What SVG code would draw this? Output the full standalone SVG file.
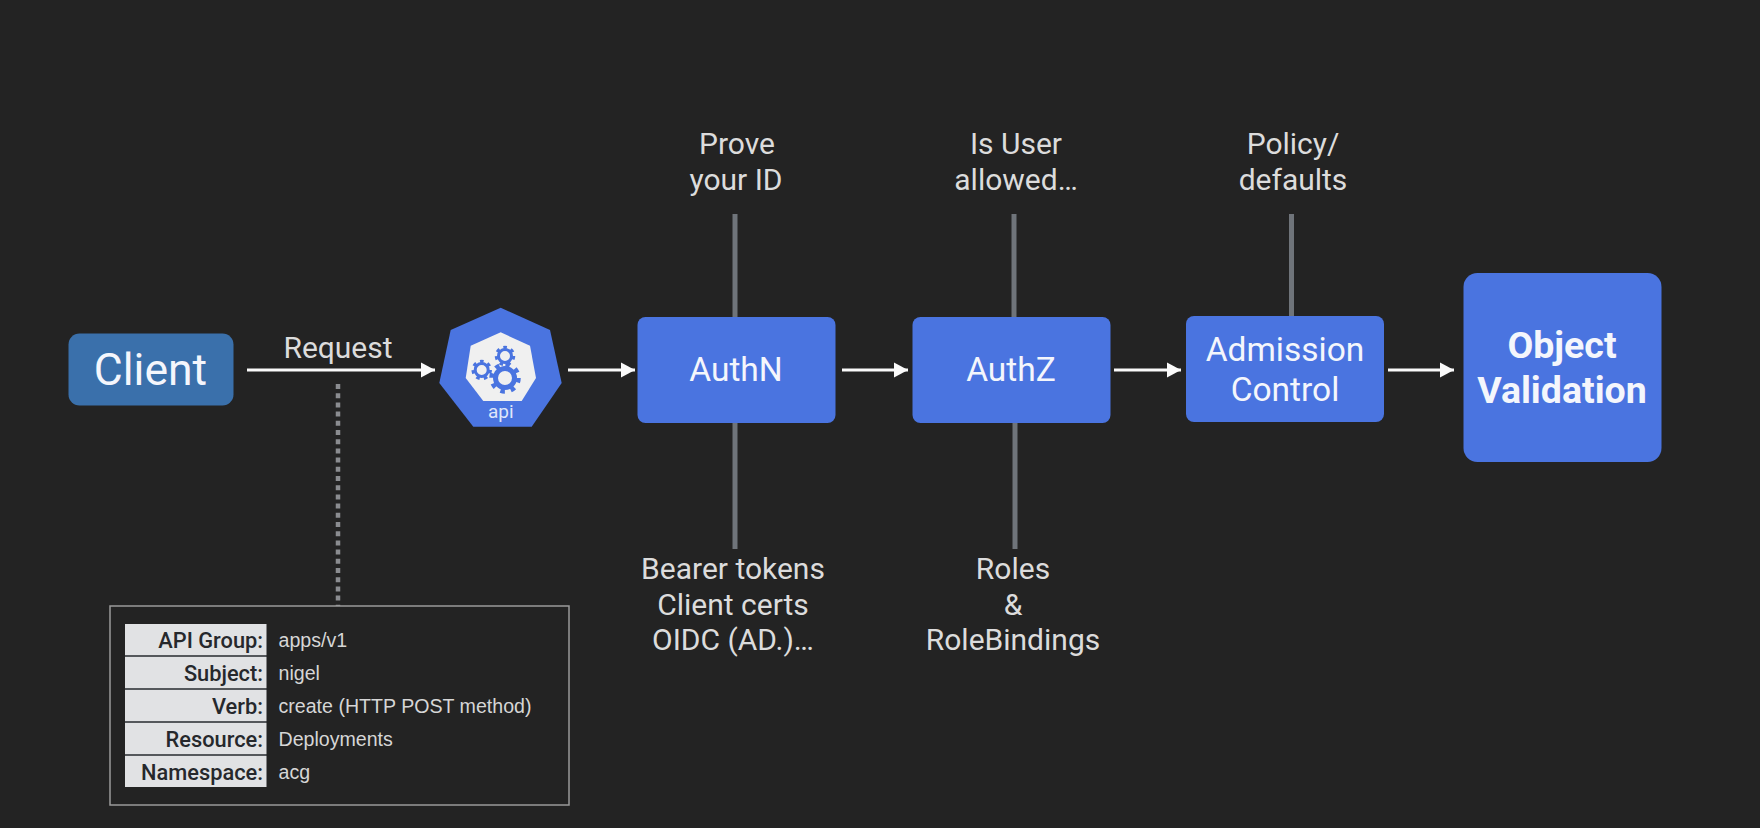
<svg xmlns="http://www.w3.org/2000/svg" width="1760" height="828" viewBox="0 0 1760 828">
<style>
text{font-family:Roboto,"Liberation Sans",sans-serif;text-anchor:middle}
.box{fill:#4a74e0}
.nodetext{fill:#f4f6fc;font-size:33.500px}
.strong{font-weight:700;font-size:37.500px}
.note{fill:#dcdcdc;font-size:30px}
.flow{stroke:#fafafa;stroke-width:3;fill:none;marker-end:url(#ah)}
.stem{stroke:#6f747a;stroke-width:5;fill:none}
.cell{fill:#e1e2e4}
.sep{fill:#55585c}
.k{fill:#26282c;font-size:21.800px;font-weight:500;text-anchor:end}
.v{fill:#d6d6d6;font-size:19.600px;font-family:"Liberation Sans",Arial,sans-serif;text-anchor:start}
.gear{fill:none;stroke:#4a74e0}
</style>
<defs>
<marker id="ah" markerUnits="userSpaceOnUse" markerWidth="16" markerHeight="16" refX="14" refY="8" orient="auto"><path d="M0,0.500 L14,8 L0,15.500 Z" fill="#fafafa"/></marker>
</defs>
<rect width="1760" height="828" fill="#232323"/>
<g id="connectors">
<line class="flow" x1="247" y1="370" x2="435" y2="370"/>
<line class="flow" x1="568" y1="370" x2="635" y2="370"/>
<line class="flow" x1="842" y1="370" x2="908" y2="370"/>
<line class="flow" x1="1114" y1="370" x2="1181" y2="370"/>
<line class="flow" x1="1388" y1="370" x2="1454" y2="370"/>
<line class="stem" x1="735" y1="214" x2="735" y2="317"/>
<line class="stem" x1="1014" y1="214" x2="1014" y2="317"/>
<line class="stem" x1="1291.500" y1="214" x2="1291.500" y2="316"/>
<line class="stem" x1="735" y1="423" x2="735" y2="549"/>
<line class="stem" x1="1015" y1="423" x2="1015" y2="549"/>
<line x1="338" y1="384" x2="338" y2="606" stroke="#8a8c90" stroke-width="4.500" stroke-dasharray="5 4.200"/>
</g>
<g id="client"><rect x="68.500" y="333.500" width="165" height="72" rx="11" fill="#3a70ab"/><text x="150.500" y="385" font-size="44.500" fill="#f4f6fc">Client</text></g>
<text x="338" y="357.500" class="note">Request</text>
<g id="api">
<polygon class="box" points="500.700,307.700 550,330 561.700,383 531.700,426.700 473.300,426.700 439.300,383 450.700,330"/>
<polygon fill="#f0f0f0" points="500.700,332.300 530,345.700 536,378 521.700,401 483.300,401 465.700,378 470.700,345.700"/>
<circle class="gear" cx="481.700" cy="370" r="6.500" stroke-width="3"/><circle class="gear" cx="481.700" cy="370" r="8.500" stroke-width="3.500" stroke-dasharray="3.500 4.130"/>
<circle class="gear" cx="505" cy="356" r="6.500" stroke-width="3"/><circle class="gear" cx="505" cy="356" r="8.500" stroke-width="3.500" stroke-dasharray="3.500 4.130"/>
<circle class="gear" cx="505" cy="378" r="9.500" stroke-width="5"/><circle class="gear" cx="505" cy="378" r="13.500" stroke-width="4.500" stroke-dasharray="4.500 6.100"/>
<text x="500.700" y="418" font-size="19" fill="#dfe6fa">api</text>
</g>
<g id="authn"><rect class="box" x="637.500" y="317" width="198" height="106" rx="8"/><text class="nodetext" x="736" y="381">AuthN</text></g>
<g id="authz"><rect class="box" x="912.500" y="317" width="198" height="106" rx="8"/><text class="nodetext" x="1011" y="381">AuthZ</text></g>
<g id="admission"><rect class="box" x="1186" y="316" width="198" height="106" rx="8"/><text class="nodetext" x="1285" y="360.500">Admission</text><text class="nodetext" x="1285" y="400.500">Control</text></g>
<g id="validation"><rect class="box" x="1463.500" y="273" width="198" height="189" rx="14"/><text class="nodetext strong" x="1562" y="358">Object</text><text class="nodetext strong" x="1562" y="403">Validation</text></g>
<g id="note-prove"><text class="note" x="737" y="154">Prove</text><text class="note" x="736" y="190">your ID</text></g>
<g id="note-user"><text class="note" x="1016" y="154">Is User</text><text class="note" x="1016" y="190">allowed…</text></g>
<g id="note-policy"><text class="note" x="1293" y="154">Policy/</text><text class="note" x="1293" y="190">defaults</text></g>
<g id="note-tokens"><text class="note" x="733" y="579">Bearer tokens</text><text class="note" x="733" y="615">Client certs</text><text class="note" x="733" y="650">OIDC (AD.)…</text></g>
<g id="note-roles"><text class="note" x="1013" y="579">Roles</text><text class="note" x="1013" y="615">&amp;</text><text class="note" x="1013" y="650">RoleBindings</text></g>
<g id="request-table">
<rect x="110" y="606" width="459" height="199" fill="none" stroke="#9a9a9a" stroke-width="1.500"/>
<rect class="sep" x="125" y="655" width="141.500" height="2"/><rect class="sep" x="125" y="688" width="141.500" height="2"/><rect class="sep" x="125" y="721" width="141.500" height="2"/><rect class="sep" x="125" y="754" width="141.500" height="2"/>
<rect class="cell" x="125" y="624" width="141.500" height="31"/><rect class="cell" x="125" y="657" width="141.500" height="31"/><rect class="cell" x="125" y="690" width="141.500" height="31"/><rect class="cell" x="125" y="723" width="141.500" height="31"/><rect class="cell" x="125" y="756" width="141.500" height="31"/>
<text class="k" x="263" y="647.500">API Group:</text><text class="v" x="278.500" y="647">apps/v1</text>
<text class="k" x="263" y="680.500">Subject:</text><text class="v" x="278.500" y="680">nigel</text>
<text class="k" x="263" y="713.500">Verb:</text><text class="v" x="278.500" y="713">create (HTTP POST method)</text>
<text class="k" x="263" y="746.500">Resource:</text><text class="v" x="278.500" y="746">Deployments</text>
<text class="k" x="263" y="779.500">Namespace:</text><text class="v" x="278.500" y="779">acg</text>
</g>
</svg>
